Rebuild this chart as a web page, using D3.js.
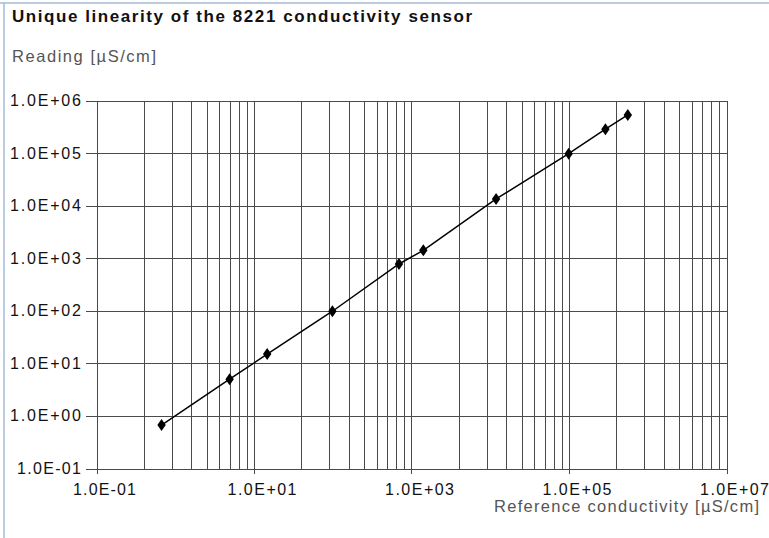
<!DOCTYPE html>
<html>
<head>
<meta charset="UTF-8">
<title>8221 linearity</title>
<style>
    body{ margin:0; background:#fff; }
    text{ font-family:"Liberation Sans", Arial, sans-serif; }
    .grid line{ stroke:#4a4a4a; stroke-width:1px; shape-rendering:crispEdges; }
</style>
<script src="https://d3js.org/d3.v7.min.js"></script>
</head>
<body>
<div class="canvas"></div>
<script>
// reference conductivity vs reading, both in uS/cm
const refCond = [0.67, 4.9, 14.7, 99, 693, 1413, 11860, 99000, 290000, 558000];
const reading = [0.67, 5.0, 15, 98, 776, 1413, 13400, 97500, 284000, 531000];
const xTicks = [1e-1, 1e1, 1e3, 1e5, 1e7];
const xTickLabels = ['1.0E-01', '1.0E+01', '1.0E+03', '1.0E+05', '1.0E+07'];
const yTicks = [1e-1, 1e0, 1e1, 1e2, 1e3, 1e4, 1e5, 1e6];
const yTickLabels = ['1.0E-01', '1.0E+00', '1.0E+01', '1.0E+02', '1.0E+03', '1.0E+04', '1.0E+05', '1.0E+06'];

const W = 769, H = 538;
const svg = d3.select('.canvas').append('svg')
    .attr('width', W).attr('height', H);

// frame lines at top and left
svg.append('line').attr('x1', 0).attr('x2', W).attr('y1', 3).attr('y2', 3)
    .attr('stroke', '#a3bad8').attr('stroke-width', 1.5);
svg.append('line').attr('x1', 4).attr('x2', 4).attr('y1', 3).attr('y2', H)
    .attr('stroke', '#a3bad8').attr('stroke-width', 1.5);

const x = d3.scaleLog().domain([1e-1, 1e7]).range([96.5, 726.5]);
const y = d3.scaleLog().domain([1e-1, 1e6]).range([468.5, 100.5]);

// vertical grid: log cycles of two decades, lines at k^2 for k = 2..9
const vLines = [];
for (let base = 1e-1; base < 1e7; base *= 100) {
    for (let k = 1; k <= 10; k++) vLines.push(base * k * k);
}
const grid = svg.append('g').attr('class', 'grid');
grid.selectAll('.v').data(vLines).enter().append('line')
    .attr('x1', d => Math.round(x(d)) + 0.5).attr('x2', d => Math.round(x(d)) + 0.5)
    .attr('y1', y(1e6)).attr('y2', y(1e-1));
grid.selectAll('.h').data(yTicks).enter().append('line')
    .attr('x1', x(1e-1) - 11).attr('x2', x(1e7))
    .attr('y1', d => Math.round(y(d)) + 0.5).attr('y2', d => Math.round(y(d)) + 0.5);
grid.selectAll('.xt').data(xTicks).enter().append('line')
    .attr('x1', d => Math.round(x(d)) + 0.5).attr('x2', d => Math.round(x(d)) + 0.5)
    .attr('y1', y(1e-1)).attr('y2', y(1e-1) + 5);

// tick labels
svg.selectAll('.yl').data(yTicks).enter().append('text')
    .attr('x', 81).attr('y', d => y(d) + 5.5)
    .attr('text-anchor', 'end').attr('font-size', 16).attr('fill', '#111')
    .attr('textLength', (d, i) => yTickLabels[i].includes('-') ? 64 : 71)
    .attr('lengthAdjust', 'spacing')
    .text((d, i) => yTickLabels[i]);
svg.selectAll('.xl').data(xTicks).enter().append('text')
    .attr('x', d => x(d) + 8).attr('y', 495)
    .attr('text-anchor', 'middle').attr('font-size', 16).attr('fill', '#111')
    .attr('textLength', (d, i) => xTickLabels[i].includes('-') ? 63 : 69)
    .attr('lengthAdjust', 'spacing')
    .text((d, i) => xTickLabels[i]);

// titles
svg.append('text').attr('x', 12).attr('y', 22)
    .attr('font-size', 17).attr('font-weight', 'bold').attr('fill', '#111')
    .attr('textLength', 460).attr('lengthAdjust', 'spacing')
    .text('Unique linearity of the 8221 conductivity sensor');
svg.append('text').attr('x', 12).attr('y', 62)
    .attr('font-size', 16.5).attr('fill', '#555')
    .attr('textLength', 144).attr('lengthAdjust', 'spacing')
    .text('Reading [µS/cm]');
svg.append('text').attr('x', 494).attr('y', 512)
    .attr('font-size', 16.5).attr('fill', '#555')
    .attr('textLength', 265).attr('lengthAdjust', 'spacing')
    .text('Reference conductivity [µS/cm]');

// data line + diamond markers
const pts = refCond.map((v, i) => [v, reading[i]]);
svg.append('path').datum(pts)
    .attr('d', d3.line().x(d => x(d[0])).y(d => y(d[1])))
    .attr('fill', 'none').attr('stroke', '#000').attr('stroke-width', 1.5);
svg.selectAll('.pt').data(pts).enter().append('path')
    .attr('transform', d => `translate(${x(d[0])},${y(d[1])})`)
    .attr('d', 'M0,-6L4.2,0L0,6L-4.2,0Z')
    .attr('fill', '#000');
</script>
</body>
</html>
